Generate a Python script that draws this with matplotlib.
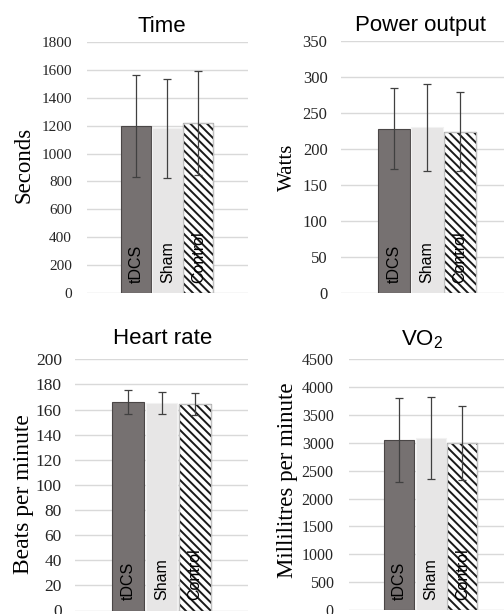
import matplotlib
matplotlib.use("Agg")
import matplotlib.pyplot as plt

W, H = 504, 614

groups = ["tDCS", "Sham", "Control"]

time_mean = [1195, 1180, 1215]
time_sd = [365, 355, 372]
power_mean = [228, 230, 224]
power_sd = [56, 60, 55]
hr_mean = [166, 165.5, 164.5]
hr_sd = [9.4, 8.8, 8.9]
vo2_mean = [3055, 3085, 3005]
vo2_sd = [755, 740, 665]

time_ticks = list(range(0, 1801, 200))
power_ticks = list(range(0, 351, 50))
hr_ticks = list(range(0, 201, 20))
vo2_ticks = list(range(0, 4501, 500))

FILLS = ["#767171", "#e7e6e6", "white"]
EDGES = ["#4a4646", "#f2f2f2", "#bfbfbf"]
HATCH = "\\\\\\\\"

plt.rcParams["hatch.linewidth"] = 1.4
plt.rcParams["mathtext.default"] = "regular"


def px_rect(l, t, r, b):
    return [l / W, 1 - b / H, (r - l) / W, (b - t) / H]


def panel(fig, rect, means, sds, ticks, tick_size, title, title_xy,
          ylabel, ylabel_xy, ylabel_size, tick_pad):
    ax = fig.add_axes(px_rect(*rect))
    x = range(len(groups))
    bars = ax.bar(x, means, width=0.96, color=FILLS, edgecolor=EDGES,
                  linewidth=0.8, zorder=2)
    # hatch takes the edge colour, so the control bar gets a dark edge
    # and a light outline is drawn on top of it
    bars[2].set_hatch(HATCH)
    bars[2].set_edgecolor("#1a1a1a")
    ax.bar([2], [means[2]], width=0.96, color="none", edgecolor=EDGES[2],
           linewidth=0.8, zorder=3)
    ax.errorbar(x, means, yerr=sds, fmt="none", ecolor="#404040",
                elinewidth=0.9, capsize=2.6, capthick=0.9, zorder=4)
    for i, g in enumerate(groups):
        ax.annotate(g, xy=(i, 0), xytext=(0, 7.5), textcoords="offset points",
                    rotation=90, ha="center", va="bottom", fontsize=11.5,
                    family="Liberation Sans", color="black", zorder=5)
    ax.set_xlim(-1.6, 3.6)
    ax.set_ylim(ticks[0], ticks[-1])
    ax.set_yticks(ticks)
    ax.set_yticklabels([str(t) for t in ticks], family="Liberation Serif",
                       fontsize=tick_size, color="#262626")
    ax.tick_params(axis="y", length=0, pad=tick_pad)
    ax.set_xticks([])
    ax.grid(axis="y", color="#d9d9d9", linewidth=1.0, zorder=0)
    ax.set_axisbelow(True)
    for s in ax.spines.values():
        s.set_visible(False)
    fig.text(title_xy[0] / W, 1 - title_xy[1] / H, title, ha="center",
             va="baseline", fontsize=16, family="Liberation Sans")
    fig.text(ylabel_xy[0] / W, 1 - ylabel_xy[1] / H, ylabel, rotation=90,
             ha="center", va="center", fontsize=ylabel_size,
             family="Liberation Serif")
    return ax


fig = plt.figure(figsize=(W / 100, H / 100), dpi=100, facecolor="white")

panel(fig, (86.7, 41.7, 248, 293.3), time_mean, time_sd, time_ticks, 11,
      "Time", (162, 31.5), "Seconds", (24, 165), 16.5, 10.5)
panel(fig, (340.7, 40.7, 513.3, 293.3), power_mean, power_sd, power_ticks, 12,
      "Power output", (420.5, 31), "Watts", (287.5, 167), 15, 9.5)
panel(fig, (75, 359.3, 248, 610.5), hr_mean, hr_sd, hr_ticks, 12.5,
      "Heart rate", (162.5, 344), "Beats per minute", (24, 494), 17, 9.5)
panel(fig, (349, 359.3, 512.6, 610), vo2_mean, vo2_sd, vo2_ticks, 11.5,
      "VO$_2$", (422, 345), "Millilitres per minute", (287.5, 480), 16.5, 11)

fig.savefig("out.png", dpi=100, facecolor="white")
